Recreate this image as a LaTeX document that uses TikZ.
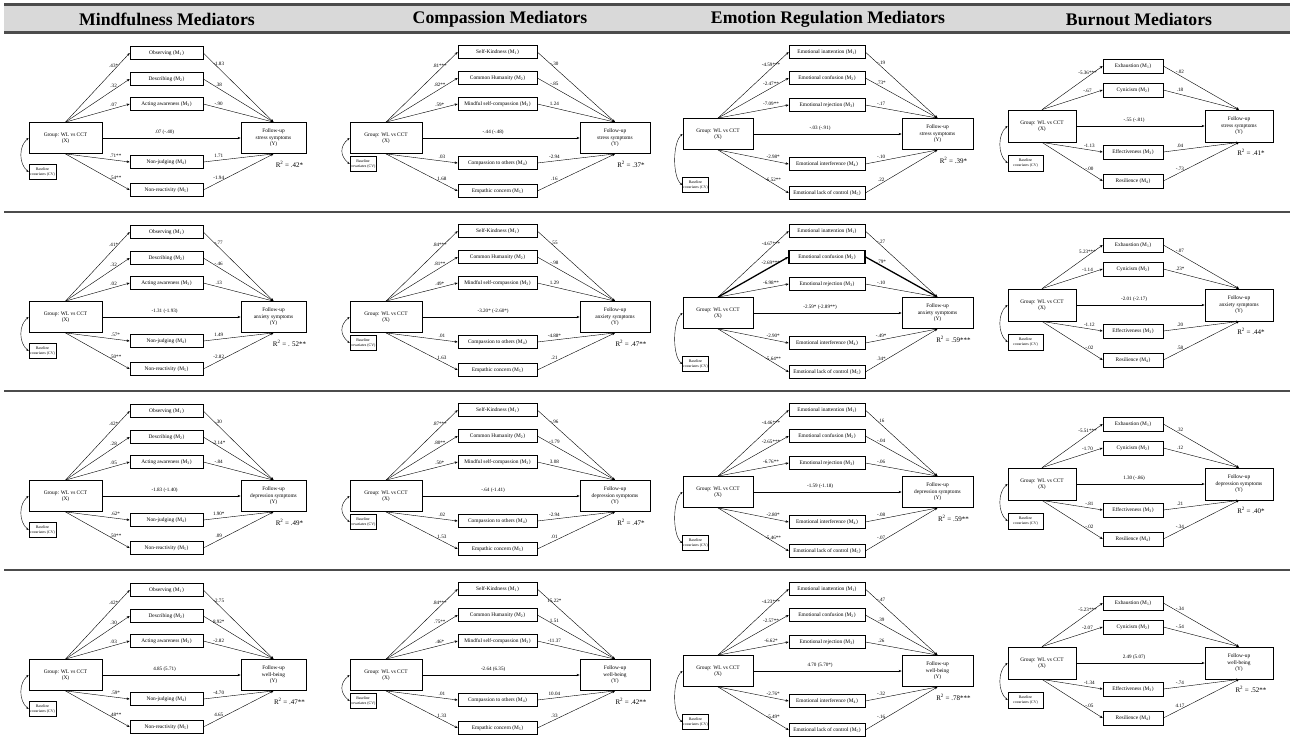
\documentclass[tikz,border=0pt]{standalone}
\usepackage{fontspec}
\setmainfont{Liberation Serif}
\usetikzlibrary{arrows.meta,calc}

\tikzset{
  box/.style={draw, line width=0.6pt, fill=white, align=center, inner sep=0.5pt, font=\fontsize{5.4}{6.4}\selectfont},
  medbox/.style={box, minimum height=12.5pt},
  xbox/.style={box, line width=0.8pt, minimum height=31pt},
  cvbox/.style={box, font=\fontsize{3.9}{4.6}\selectfont, minimum height=15pt},
  conn/.style={line width=0.4pt, -{Stealth[length=3pt,width=2.4pt]}},
  cvarc/.style={line width=0.4pt, {Stealth[length=2.6pt,width=2pt]}-{Stealth[length=2.6pt,width=2pt]}},
  lab/.style={font=\fontsize{5.1}{6}\selectfont, inner sep=0.6pt},
  rsq/.style={font=\fontsize{7}{8}\selectfont, inner sep=0pt},
  head/.style={font=\fontsize{17.7}{20}\selectfont\bfseries},
  rule/.style={line width=2.2pt, draw=black!70},
  pc2-2/.style={line width=1.3pt},
  pc2-b2/.style={line width=1.3pt},
}

\def\getA#1/#2/#3/#4/#5\relax{\def\aA{#1}\def\aB{#2}\def\aC{#3}\def\aD{#4}\def\aE{#5}}
\def\getB#1/#2/#3/#4/#5\relax{\def\bA{#1}\def\bB{#2}\def\bC{#3}\def\bD{#4}\def\bE{#5}}
\def\getAf#1/#2/#3/#4\relax{\def\aA{#1}\def\aB{#2}\def\aC{#3}\def\aD{#4}}
\def\getBf#1/#2/#3/#4\relax{\def\bA{#1}\def\bB{#2}\def\bC{#3}\def\bD{#4}}

\def\geomMind{\def\xc{65.5}\def\xw{73pt}\def\yc{273.5}\def\yw{65pt}\def\xy{105}%
  \def\mc{166.5}\def\mw{73pt}\def\yA{20}\def\yB{46}\def\yC{71}\def\yD{129}\def\yE{157}%
  \def\cvc{42.5}\def\cvw{27pt}\def\cvy{139}%
  \def\mnA{Observing (M\textsubscript{1})}\def\mnB{Describing (M\textsubscript{2})}%
  \def\mnC{Acting awareness (M\textsubscript{3})}\def\mnD{Non-judging (M\textsubscript{4})}%
  \def\mnE{Non-reactivity (M\textsubscript{5})}}
\def\geomComp{\def\xc{386}\def\xw{72pt}\def\yc{615}\def\yw{70pt}\def\xy{105}%
  \def\mc{497.5}\def\mw{79pt}\def\yA{19}\def\yB{45}\def\yC{71}\def\yD{130}\def\yE{158}%
  \def\cvc{363}\def\cvw{26pt}\def\cvy{131}%
  \def\mnA{Self-Kindness (M\textsubscript{1})}\def\mnB{Common Humanity (M\textsubscript{2})}%
  \def\mnC{Mindful self-compassion (M\textsubscript{3})}\def\mnD{Compassion to others (M\textsubscript{4})}%
  \def\mnE{Empathic concern (M\textsubscript{5})}}
\def\geomEmo{\def\xc{718}\def\xw{70pt}\def\yc{937.5}\def\yw{71pt}\def\xy{101}%
  \def\mc{827}\def\mw{76pt}\def\yA{19}\def\yB{45}\def\yC{72}\def\yD{131}\def\yE{160}%
  \def\cvc{695.5}\def\cvw{24pt}\def\cvy{152}%
  \def\mnA{Emotional inattention (M\textsubscript{1})}\def\mnB{Emotional confusion (M\textsubscript{2})}%
  \def\mnC{Emotional rejection (M\textsubscript{3})}\def\mnD{Emotional interference (M\textsubscript{4})}%
  \def\mnE{Emotional lack of control (M\textsubscript{5})}}
\def\geomBurn{\def\xc{1042}\def\xw{68pt}\def\yc{1239}\def\yw{68pt}\def\xy{93}%
  \def\mc{1133}\def\mw{60pt}\def\yA{33}\def\yB{57}\def\yD{119}\def\yE{148}%
  \def\cvc{1025.5}\def\cvw{35pt}\def\cvy{130}%
  \def\mnA{Exhaustion (M\textsubscript{1})}\def\mnB{Cynicism (M\textsubscript{2})}%
  \def\mnC{Effectiveness (M\textsubscript{3})}\def\mnD{Resilience (M\textsubscript{4})}}

% #1 name, #2 geometry, #3 row top, #4 outcome, #5 c path, #6 R2, #7 a paths, #8 b paths
\newcommand{\fivepanel}[8]{%
  #2\getA#7\relax\getB#8\relax
  \begin{scope}[shift={(0,#3)}]
    \node[xbox, minimum width=\xw] (#1x) at (\xc,\xy) {Group: WL vs CCT\\(X)};
    \node[xbox, minimum width=\yw] (#1y) at (\yc,\xy) {Follow-up\\#4\\(Y)};
    \node[cvbox, minimum width=\cvw] (#1cv) at (\cvc,\cvy) {Baseline\\covariates (CV)};
    \node[medbox, minimum width=\mw, #1-b1/.try] (#1m1) at (\mc,\yA) {\mnA};
    \node[medbox, minimum width=\mw, #1-b2/.try] (#1m2) at (\mc,\yB) {\mnB};
    \node[medbox, minimum width=\mw, #1-b3/.try] (#1m3) at (\mc,\yC) {\mnC};
    \node[medbox, minimum width=\mw, #1-b4/.try] (#1m4) at (\mc,\yD) {\mnD};
    \node[medbox, minimum width=\mw, #1-b5/.try] (#1m5) at (\mc,\yE) {\mnE};
    \node[rsq, anchor=north, xshift=16pt, yshift=-7pt] (#1r) at (#1y.south) {R\textsuperscript{2} = #6};
    \draw[conn, #1-1/.try] (#1x.north) -- (#1m1.west) node[lab, pos=.75, above=1.5pt] {\aA};
    \draw[conn, #1-2/.try] (#1x.north) -- (#1m2.west) node[lab, pos=.75, above=1.5pt] {\aB};
    \draw[conn, #1-3/.try] (#1x.north) -- (#1m3.west) node[lab, pos=.75, above=1.5pt] {\aC};
    \draw[conn, #1-4/.try] (#1x.south) -- (#1m4.west) node[lab, pos=.78, above=1.5pt] {\aD};
    \draw[conn, #1-5/.try] (#1x.south) -- (#1m5.west) node[lab, pos=.78, above=1.5pt] {\aE};
    \draw[conn, #1-1/.try] (#1m1.east) -- (#1y.north) node[lab, pos=.22, above=1.5pt] {\bA};
    \draw[conn, #1-2/.try] (#1m2.east) -- (#1y.north) node[lab, pos=.22, above=1.5pt] {\bB};
    \draw[conn, #1-3/.try] (#1m3.east) -- (#1y.north) node[lab, pos=.22, above=1.5pt] {\bC};
    \draw[conn, #1-4/.try] (#1m4.east) -- (#1y.south) node[lab, pos=.22, above=1.5pt] {\bD};
    \draw[conn, #1-5/.try] (#1m5.east) -- (#1y.south) node[lab, pos=.22, above=1.5pt] {\bE};
    \draw[conn] (#1x.east) -- (#1y.west) node[lab, pos=.45, above=3pt] {#5};
    \draw[cvarc] (#1x.west) .. controls +(-10,8) and +(-10,-8) .. (#1cv.west);
  \end{scope}}

\newcommand{\fourpanel}[8]{%
  #2\getAf#7\relax\getBf#8\relax
  \begin{scope}[shift={(0,#3)}]
    \node[xbox, minimum width=\xw, minimum height=32pt] (#1x) at (\xc,\xy) {Group: WL vs CCT\\(X)};
    \node[xbox, minimum width=\yw, minimum height=32pt] (#1y) at (\yc,\xy) {Follow-up\\#4\\(Y)};
    \node[cvbox, minimum width=\cvw, minimum height=16pt] (#1cv) at (\cvc,\cvy) {Baseline\\covariates (CV)};
    \node[medbox, minimum width=\mw, minimum height=14pt] (#1m1) at (\mc,\yA) {\mnA};
    \node[medbox, minimum width=\mw, minimum height=14pt] (#1m2) at (\mc,\yB) {\mnB};
    \node[medbox, minimum width=\mw, minimum height=14pt] (#1m3) at (\mc,\yD) {\mnC};
    \node[medbox, minimum width=\mw, minimum height=14pt] (#1m4) at (\mc,\yE) {\mnD};
    \node[rsq, anchor=north, xshift=12pt, yshift=-7pt] (#1r) at (#1y.south) {R\textsuperscript{2} = #6};
    \draw[conn] (#1x.north) -- (#1m1.west) node[lab, pos=.75, above=1.5pt] {\aA};
    \draw[conn] (#1x.north) -- (#1m2.west) node[lab, pos=.75, above=1.5pt] {\aB};
    \draw[conn] (#1x.south) -- (#1m3.west) node[lab, pos=.78, above=1.5pt] {\aC};
    \draw[conn] (#1x.south) -- (#1m4.west) node[lab, pos=.78, above=1.5pt] {\aD};
    \draw[conn] (#1m1.east) -- (#1y.north) node[lab, pos=.22, above=1.5pt] {\bA};
    \draw[conn] (#1m2.east) -- (#1y.north) node[lab, pos=.22, above=1.5pt] {\bB};
    \draw[conn] (#1m3.east) -- (#1y.south) node[lab, pos=.22, above=1.5pt] {\bC};
    \draw[conn] (#1m4.east) -- (#1y.south) node[lab, pos=.22, above=1.5pt] {\bD};
    \draw[conn] (#1x.east) -- (#1y.west) node[lab, pos=.45, above=3pt] {#5};
    \draw[cvarc] (#1x.west) .. controls +(-10,8) and +(-10,-8) .. (#1cv.west);
  \end{scope}}

\begin{document}
\begin{tikzpicture}[x=1pt, y=-1pt]
\useasboundingbox (0,0) rectangle (1294,747);
\fill[white] (0,0) rectangle (1294,747);
% header band
\fill[black!15] (4,4) rectangle (1290,33);
\draw[rule] (4,4.5) -- (1290,4.5);
\draw[rule] (4,32.5) -- (1290,32.5);
\node[head] (h1) at (167,19) {Mindfulness Mediators};
\node[head] (h2) at (500,19) {Compassion Mediators};
\node[head] (h3) at (828,19) {Emotion Regulation Mediators};
\node[head] (h4) at (1139,19) {Burnout Mediators};
% row separators
\draw[rule] (4,212) -- (1290,212);
\draw[rule] (4,391) -- (1290,391);
\draw[rule] (4,570) -- (1290,570);

% Mindfulness
\fivepanel{pa1}{\geomMind}{33}{stress symptoms}{.07 (-.40)}{.42*}{.43*/.32/.07/.71**/.54**}{-1.83/.38/-.90/1.71/-1.94}
\fivepanel{pa2}{\geomMind}{212}{anxiety symptoms}{-1.31 (-1.93)}{. 52**}{.41*/.32/.02/.57*/.50**}{-.77/-.46/.13/1.49/-2.82}
\fivepanel{pa3}{\geomMind}{391}{depression symptoms}{-1.83 (-1.40)}{.49*}{.42*/.28/.05/.62*/.50**}{.30/-2.14*/-.84/1.90*/.09}
\fivepanel{pa4}{\geomMind}{570}{well-being}{4.85 (5.71)}{.47**}{.42*/.30/.03/.59*/.48**}{-2.75/8.92*/-2.82/-4.70/4.65}
% Compassion
\fivepanel{pb1}{\geomComp}{33}{stress symptoms}{-.44 (-.48)}{.37*}{.81***/.82**/.59*/.03/1.68}{-.30/-.85/1.24/-2.94/.16}
\fivepanel{pb2}{\geomComp}{212}{anxiety symptoms}{-3.20* (-2.60*)}{.47**}{.84***/.81**/.49*/.01/1.63}{.55/-.98/1.29/-4.88*/.21}
\fivepanel{pb3}{\geomComp}{391}{depression symptoms}{-.64 (-1.41)}{.47*}{.87***/.80**/.50*/.02/1.53}{-.96/-1.79/3.08/-2.94/.01}
\fivepanel{pb4}{\geomComp}{570}{well-being}{-2.64 (6.35)}{.42**}{.84***/.75**/.46*/.01/1.33}{15.22*/1.51/-11.37/10.04/.33}
% Emotion regulation
\fivepanel{pc1}{\geomEmo}{33}{stress symptoms}{-.03 (-.91)}{.39*}{-4.59***/-2.47**/-7.09**/-2.98*/-6.52**}{-.19/.73*/-.17/-.10/.22}
\fivepanel{pc2}{\geomEmo}{212}{anxiety symptoms}{-2.59* (-2.89**)}{.59***}{-4.67***/-2.69***/-6.98**/-2.90*/-5.64**}{-.27/.79*/-.10/-.49*/.34*}
\fivepanel{pc3}{\geomEmo}{391}{depression symptoms}{-1.59 (-1.18)}{.59**}{-4.46***/-2.65***/-6.76**/-2.80*/-5.46**}{.16/-.04/-.06/-.08/-.07}
\fivepanel{pc4}{\geomEmo}{570}{well-being}{4.70 (5.70*)}{.78***}{-4.23***/-2.57**/-6.62*/-2.76*/-5.49*}{-.47/.39/.26/-.32/-.16}
% Burnout
\fourpanel{pd1}{\geomBurn}{33}{stress symptoms}{-.55 (-.81)}{.41*}{-5.36***/-.67/-1.13/-.00}{-.02/.18/.04/-.73}
\fourpanel{pd2}{\geomBurn}{212}{anxiety symptoms}{-2.01 (-2.17)}{.44*}{5.23***/-1.14/-1.12/-.02}{-.07/.23*/.20/.58}
\fourpanel{pd3}{\geomBurn}{391}{depression symptoms}{1.30 (-.86)}{.40*}{-5.51***/-1.70/-.81/-.02}{.32/.12/.21/-.34}
\fourpanel{pd4}{\geomBurn}{570}{well-being}{2.49 (5.07)}{.52**}{-5.23***/-2.07/-1.34/-.05}{-.34/-.54/-.74/4.17}
\end{tikzpicture}
\end{document}
